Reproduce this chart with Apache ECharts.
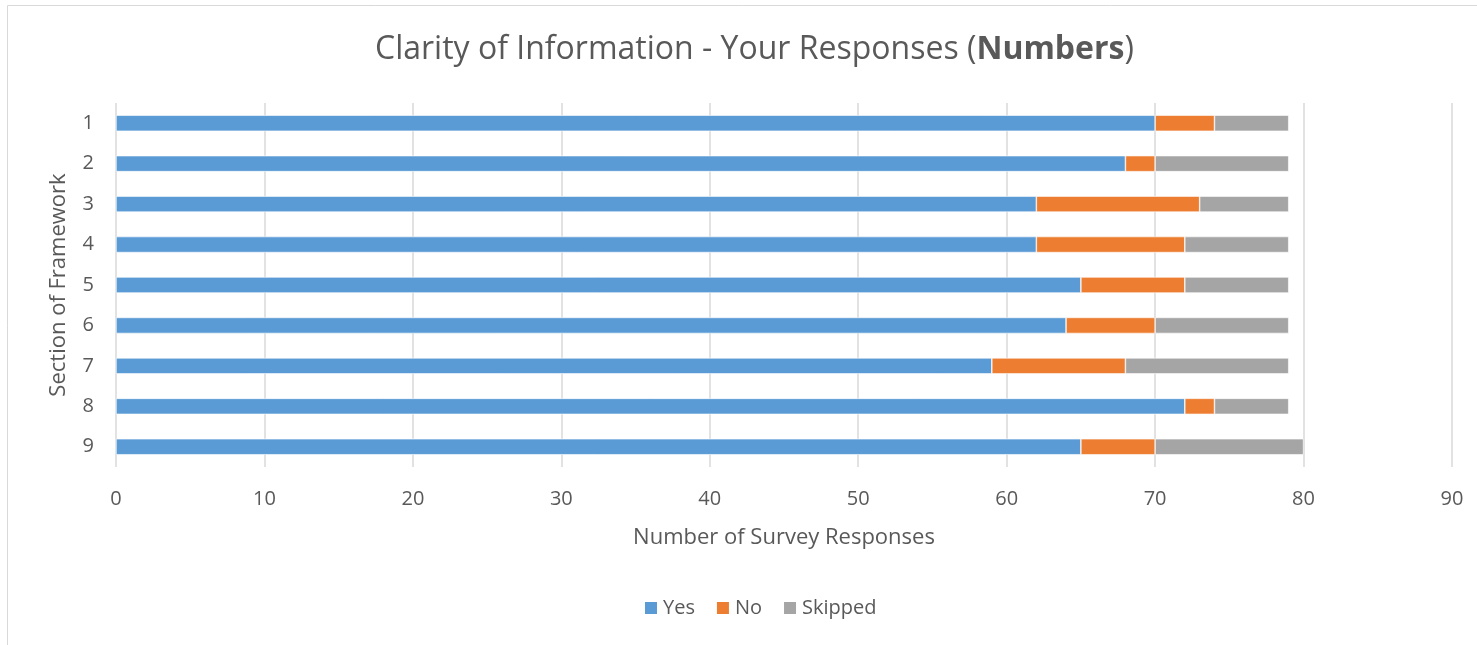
<!DOCTYPE html>
<html>
<head>
<meta charset="utf-8">
<script src="https://cdn.jsdelivr.net/npm/echarts@6/dist/echarts.min.js"></script>
<style>
html,body{margin:0;padding:0;background:#fff;}
#c{width:1477px;height:645px;}
</style>
</head>
<body>
<div id="c"></div>
<script>
const categories = ['1','2','3','4','5','6','7','8','9'];
const yesValues = [70, 68, 62, 62, 65, 64, 59, 72, 65];
const noValues = [4, 2, 11, 10, 7, 6, 9, 2, 5];
const skippedValues = [5, 9, 6, 7, 7, 9, 11, 5, 10];
const xTicks = { min: 0, max: 90, interval: 10 };

const font = '"Open Sans", "Noto Sans", sans-serif';
const chart = echarts.init(document.getElementById('c'));
const barBase = {
  type: 'bar',
  stack: 'total',
  barWidth: 16,
  itemStyle: { borderColor: '#ffffff', borderWidth: 0.6 }
};
chart.setOption({
  animation: false,
  textStyle: { fontFamily: font },
  graphic: [{
    type: 'rect',
    shape: { x: 7.5, y: 5.5, width: 1480, height: 660 },
    style: { fill: 'none', stroke: '#d9d9d9', lineWidth: 1 },
    silent: true
  }],
  title: {
    text: '{n|Clarity of Information - Your Responses (}{b|Numbers}{n|)}',
    left: 370,
    top: 29,
    textStyle: {
      fontWeight: 'normal',
      rich: {
        n: { fontSize: 32, color: '#595959', fontWeight: 'normal', fontFamily: font },
        b: { fontSize: 32, color: '#595959', fontWeight: 'bold', fontFamily: font }
      }
    }
  },
  legend: {
    bottom: 22,
    left: 638,
    itemWidth: 14,
    itemHeight: 14,
    itemGap: 20,
    icon: 'rect',
    textStyle: { fontSize: 20, color: '#595959', fontFamily: font },
    data: ['Yes', 'No', 'Skipped']
  },
  grid: { left: 116, right: 25, top: 103, height: 364, containLabel: false },
  xAxis: {
    type: 'value',
    min: xTicks.min, max: xTicks.max, interval: xTicks.interval,
    name: 'Number of Survey Responses',
    nameLocation: 'middle',
    nameGap: 60,
    nameTextStyle: { fontSize: 22, color: '#595959', fontFamily: font },
    axisLine: { show: false },
    axisTick: { show: false },
    axisLabel: { fontSize: 20, color: '#595959', margin: 22, fontFamily: font },
    splitLine: { show: true, lineStyle: { color: '#d9d9d9', width: 1.5 } }
  },
  yAxis: {
    type: 'category',
    data: categories,
    inverse: true,
    name: 'Section of Framework',
    nameLocation: 'middle',
    nameGap: 46,
    nameTextStyle: { fontSize: 22, color: '#595959', fontFamily: font },
    axisLine: { show: false },
    axisTick: { show: false },
    axisLabel: { fontSize: 20, color: '#595959', margin: 22, fontFamily: font }
  },
  series: [
    Object.assign({}, barBase, { name: 'Yes', data: yesValues, itemStyle: Object.assign({}, barBase.itemStyle, { color: '#5B9BD5' }) }),
    Object.assign({}, barBase, { name: 'No', data: noValues, itemStyle: Object.assign({}, barBase.itemStyle, { color: '#ED7D31' }) }),
    Object.assign({}, barBase, { name: 'Skipped', data: skippedValues, itemStyle: Object.assign({}, barBase.itemStyle, { color: '#A5A5A5' }) })
  ]
});
</script>
</body>
</html>
